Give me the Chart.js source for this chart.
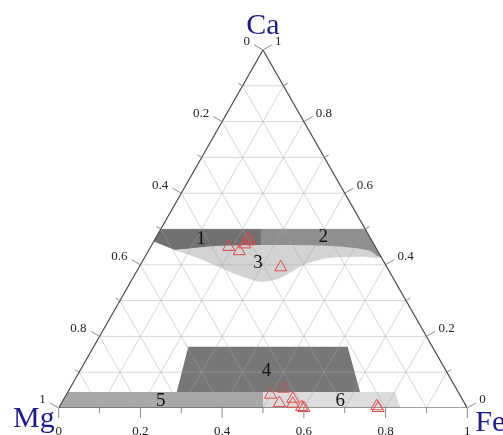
<!DOCTYPE html>
<html>
<head>
<meta charset="utf-8">
<script src="https://cdn.jsdelivr.net/npm/chart.js@4.4.1/dist/chart.umd.min.js"></script>
<style>
    html, body { margin: 0; padding: 0; background: #fff; }
</style>
</head>
<body>
<canvas id="ternario" width="503" height="435"></canvas>
<script>
// Datos del diagrama ternario: cada punto se guarda como fraccion Fe y Ca (Mg = 1 - Fe - Ca)
const valoresEje = [0, 0.2, 0.4, 0.6, 0.8, 1];
const etiquetasEje = ['0', '0.2', '0.4', '0.6', '0.8', '1'];
const pasosRejilla = [0.1, 0.2, 0.3, 0.4, 0.5, 0.6, 0.7, 0.8, 0.9];

const zona1Fe = [0, 0.245, 0.27, 0.243, 0.138, 0.064, 0];
const zona1Ca = [0.5, 0.5, 0.45, 0.4506, 0.449, 0.441, 0.465];

const zona2Fe = [0.245, 0.5, 0.581, 0.566, 0.519, 0.4735, 0.389, 0.27];
const zona2Ca = [0.5, 0.5, 0.419, 0.4246, 0.4366, 0.446, 0.4525, 0.45];

const zona3Fe = [0.064, 0.15, 0.30, 0.45, 0.54, 0.575, 0.555, 0.526, 0.447, 0.399, 0.360, 0.316, 0.239, 0.158, 0.064];
const zona3Ca = [0.441, 0.452, 0.455, 0.452, 0.44, 0.418, 0.421, 0.4226, 0.4182, 0.3994, 0.3623, 0.3528, 0.3763, 0.4087, 0.441];

const zona4Fe = [0.2316, 0.6217, 0.7151, 0.2665];
const zona4Ca = [0.1712, 0.1712, 0.0447, 0.0447];

const zona5Fe = [0, 0, 0.4775, 0.5];
const zona5Ca = [0, 0.045, 0.045, 0];

const zona6Fe = [0.4775, 0.8006, 0.8365, 0.5];
const zona6Ca = [0.045, 0.045, 0, 0];

const zonaNombres = ['1', '2', '3', '4', '5', '6'];
const zonaEtiquetaFe = [0.113, 0.409, 0.286, 0.457, 0.240, 0.679];
const zonaEtiquetaCa = [0.471, 0.477, 0.404, 0.103, 0.020, 0.020];

const muestrasFe = [0.191, 0.223, 0.227, 0.227, 0.235, 0.347,
                    0.500, 0.523, 0.560, 0.533, 0.567, 0.593, 0.600, 0.776, 0.782];
const muestrasCa = [0.450, 0.438, 0.457, 0.474, 0.467, 0.393,
                    0.037, 0.054, 0.026, 0.014, 0.012, 0.003, 0.000, 0.005, 0.000];

function aXY(fe, ca) {
    return { x: fe + ca / 2, y: ca };
}

function puntos(feArr, caArr) {
    return feArr.map(function (fe, i) { return aXY(fe, caArr[i]); });
}

function zona(fe, ca, color, tension) {
    return {
        data: puntos(fe, ca),
        backgroundColor: color,
        borderWidth: 0,
        borderColor: color,
        pointRadius: 0,
        fill: 'shape',
        tension: tension || 0,
        order: 10
    };
}

var datasets = [];

datasets.push(zona(zona3Fe, zona3Ca, '#d3d3d3', 0.25));
datasets.push(zona(zona1Fe, zona1Ca, '#707070'));
datasets.push(zona(zona2Fe, zona2Ca, '#8f8f8f'));
datasets.push(zona(zona4Fe, zona4Ca, '#777777'));
datasets.push(zona(zona5Fe, zona5Ca, '#a8a8a8'));
datasets.push(zona(zona6Fe, zona6Ca, '#dcdcdc'));

// rejilla en las tres direcciones
pasosRejilla.forEach(function (v) {
    var lineas = [
        [aXY(0, v), aXY(1 - v, v)],
        [aXY(v, 0), aXY(v, 1 - v)],
        [aXY(1 - v, 0), aXY(0, 1 - v)]
    ];
    lineas.forEach(function (l) {
        datasets.push({
            data: l,
            borderColor: 'rgba(165,165,165,0.45)',
            borderWidth: 1,
            pointRadius: 0,
            fill: false,
            order: 5
        });
    });
});

// borde del triangulo
datasets.push({
    data: [aXY(0, 0), aXY(1, 0), aXY(0, 1), aXY(0, 0)],
    borderColor: '#4a4a4a',
    borderWidth: 1.2,
    pointRadius: 0,
    fill: false,
    order: 2
});

// muestras
datasets.push({
    data: puntos(muestrasFe, muestrasCa),
    showLine: false,
    pointStyle: 'triangle',
    pointRadius: 7,
    pointBorderWidth: 1,
    pointBorderColor: '#e04848',
    pointBackgroundColor: 'rgba(0,0,0,0)',
    clip: false,
    order: 0
});

const pluginEjes = {
    id: 'ejes',
    afterDatasetsDraw: function (chart) {
        const ctx = chart.ctx;
        const sx = chart.scales.x;
        const sy = chart.scales.y;

        function px(fe, ca) {
            var p = aXY(fe, ca);
            return [sx.getPixelForValue(p.x), sy.getPixelForValue(p.y)];
        }

        var todos = [0].concat(pasosRejilla, [1]);
        ctx.save();
        ctx.strokeStyle = '#8a8a8a';
        ctx.lineWidth = 1;
        todos.forEach(function (v) {
            var mayor = valoresEje.some(function (m) { return Math.abs(m - v) < 1e-6; });
            var largo = mayor ? 10 : 5;
            var a = px(v, 0);
            var b = px(0, 1 - v);
            var c = px(1 - v, v);
            ctx.beginPath();
            ctx.moveTo(a[0], a[1]);
            ctx.lineTo(a[0], a[1] + largo);
            ctx.moveTo(b[0], b[1]);
            ctx.lineTo(b[0] - 0.866 * largo, b[1] - 0.5 * largo);
            ctx.moveTo(c[0], c[1]);
            ctx.lineTo(c[0] + 0.866 * largo, c[1] - 0.5 * largo);
            ctx.stroke();
        });

        ctx.fillStyle = '#222';
        ctx.font = '13px "Liberation Serif"';
        ctx.textBaseline = 'middle';
        valoresEje.forEach(function (v, i) {
            var a = px(v, 0);
            var b = px(0, 1 - v);
            var c = px(1 - v, v);
            ctx.textAlign = 'center';
            ctx.fillText(etiquetasEje[i], a[0], a[1] + 24);
            ctx.textAlign = 'right';
            ctx.fillText(etiquetasEje[i], b[0] - 13, b[1] - 8);
            ctx.textAlign = 'left';
            ctx.fillText(etiquetasEje[i], c[0] + 12, c[1] - 8);
        });

        // numeros de las zonas
        ctx.font = '19px "Liberation Serif"';
        ctx.textAlign = 'center';
        ctx.fillStyle = '#111';
        zonaNombres.forEach(function (n, i) {
            var p = px(zonaEtiquetaFe[i], zonaEtiquetaCa[i]);
            ctx.fillText(n, p[0], p[1]);
        });

        // nombres de los vertices
        ctx.font = '30px "Liberation Serif"';
        ctx.fillStyle = '#1c1c8c';
        ctx.textBaseline = 'alphabetic';
        var top = px(0, 1);
        var mg = px(0, 0);
        var fe = px(1, 0);
        ctx.textAlign = 'center';
        ctx.fillText('Ca', top[0], top[1] - 16);
        ctx.textAlign = 'right';
        ctx.fillText('Mg', mg[0] - 4, mg[1] + 19);
        ctx.textAlign = 'left';
        ctx.fillText('Fe', fe[0] + 8, fe[1] + 23);
        ctx.restore();
    }
};

new Chart(document.getElementById('ternario'), {
    type: 'line',
    data: { datasets: datasets },
    options: {
        responsive: false,
        animation: false,
        devicePixelRatio: 1,
        layout: { padding: { left: 58.7, right: 35.7, top: 50, bottom: 27 } },
        scales: {
            x: { type: 'linear', min: 0, max: 1, display: false },
            y: { type: 'linear', min: 0, max: 1, display: false }
        },
        plugins: {
            legend: { display: false },
            tooltip: { enabled: false }
        }
    },
    plugins: [pluginEjes]
});
</script>
</body>
</html>
